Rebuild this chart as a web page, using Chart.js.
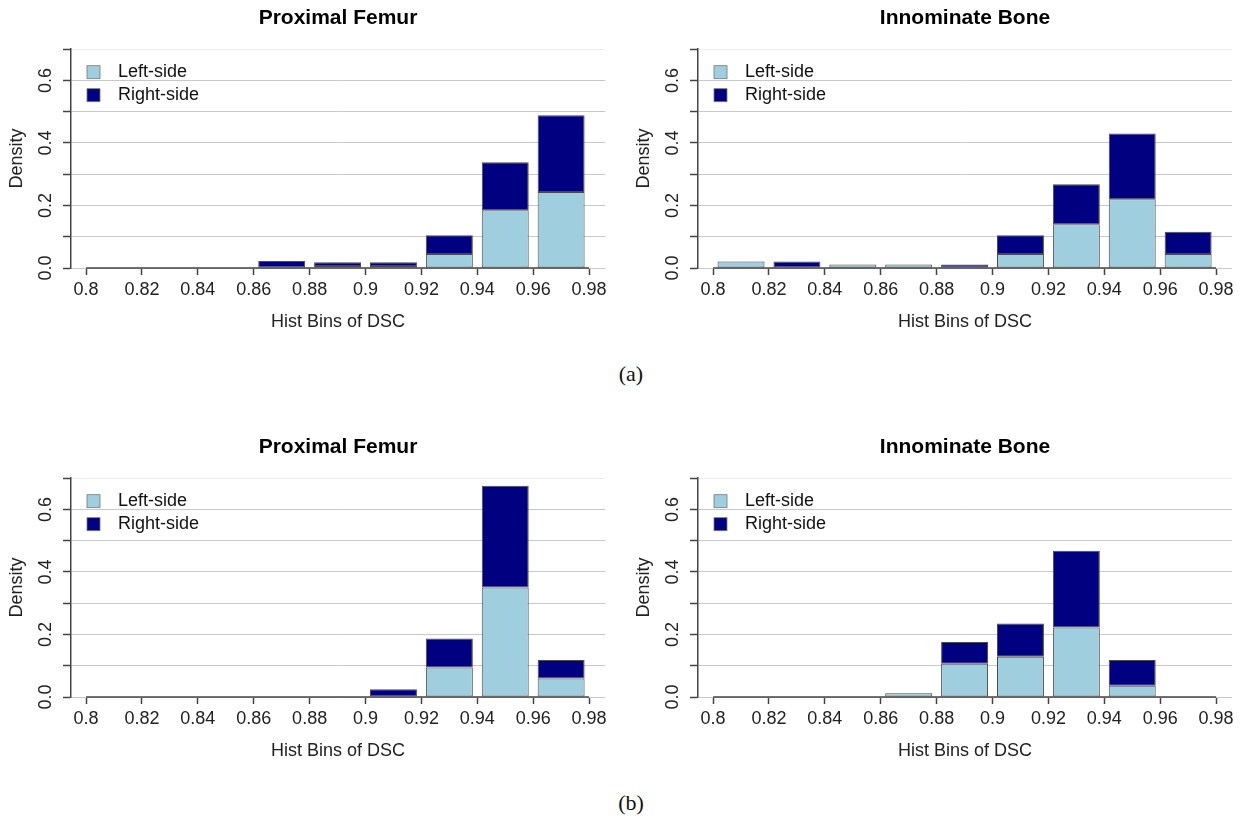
<!DOCTYPE html>
<html>
<head>
<meta charset="utf-8">
<script src="https://cdn.jsdelivr.net/npm/chart.js@4.4.1/dist/chart.umd.min.js"></script>
<style>
  body { margin: 0; background: #fff; width: 1242px; height: 816px; position: relative; overflow: hidden; }
  canvas { position: absolute; }
  .cap { position: absolute; width: 100px; text-align: center; font: 22px "Liberation Serif", "Times New Roman", serif; line-height: 22px; color: #111; }
</style>
</head>
<body>
<canvas id="c1" width="612" height="340" style="left:0;top:0"></canvas>
<canvas id="c2" width="612" height="340" style="left:627px;top:0"></canvas>
<div class="cap" style="left:581px;top:363px">(a)</div>
<canvas id="c3" width="612" height="340" style="left:0;top:429px"></canvas>
<canvas id="c4" width="612" height="340" style="left:627px;top:429px"></canvas>
<div class="cap" style="left:581px;top:792px">(b)</div>
<script>
// bins of DSC (width 0.02)
const binCenters = [0.81, 0.83, 0.85, 0.87, 0.89, 0.91, 0.93, 0.95, 0.97];
const xTicks = [0.8, 0.82, 0.84, 0.86, 0.88, 0.9, 0.92, 0.94, 0.96, 0.98];
const yTicks = [0, 0.1, 0.2, 0.3, 0.4, 0.5, 0.6, 0.7];
const yLabels = [0, 0.2, 0.4, 0.6];

// (a)
const femurA_left  = [0, 0, 0, 0, 0.006, 0.006, 0.045, 0.185, 0.243];
const femurA_right = [0, 0, 0, 0.022, 0.012, 0.012, 0.06, 0.153, 0.246];
const innomA_left  = [0.021, 0, 0.011, 0.011, 0, 0.045, 0.14, 0.22, 0.045];
const innomA_right = [0, 0.021, 0, 0, 0.011, 0.06, 0.128, 0.21, 0.071];
// (b)
const femurB_left  = [0, 0, 0, 0, 0, 0, 0.094, 0.35, 0.059];
const femurB_right = [0, 0, 0, 0, 0, 0.025, 0.093, 0.326, 0.059];
const innomB_left  = [0, 0, 0, 0.012, 0.106, 0.129, 0.222, 0.036, 0];
const innomB_right = [0, 0, 0, 0, 0.07, 0.106, 0.246, 0.082, 0];

const LIGHT = '#9fcfdf';
const NAVY = '#000080';
const AXIS = '#444';
const FONT = '"Liberation Sans", Arial, sans-serif';

// y labels rotated like R, x axis line between end ticks, legend inside the plot
const panelDecor = {
  id: 'panelDecor',
  afterDraw(chart) {
    const { ctx, chartArea, scales } = chart;
    const x = scales.x, y = scales.y;
    ctx.save();
    ctx.strokeStyle = AXIS;
    ctx.lineWidth = 1.5;
    ctx.beginPath();
    ctx.moveTo(x.getPixelForValue(xTicks[0]), chartArea.bottom);
    ctx.lineTo(x.getPixelForValue(xTicks[xTicks.length - 1]), chartArea.bottom);
    ctx.stroke();

    ctx.fillStyle = '#222';
    ctx.font = '18px ' + FONT;
    ctx.textAlign = 'center';
    ctx.textBaseline = 'middle';
    yLabels.forEach(v => {
      ctx.save();
      ctx.translate(chartArea.left - 25, y.getPixelForValue(v));
      ctx.rotate(-Math.PI / 2);
      ctx.fillText(v.toFixed(1), 0, 0);
      ctx.restore();
    });

    ctx.font = '18px ' + FONT;
    ctx.textAlign = 'left';
    chart.data.datasets.forEach((ds, i) => {
      const cy = chartArea.top + 23 + i * 23;
      ctx.fillStyle = ds.backgroundColor;
      ctx.fillRect(chartArea.left + 16, cy - 6.5, 13, 13);
      ctx.strokeStyle = '#777';
      ctx.lineWidth = 0.8;
      ctx.strokeRect(chartArea.left + 16, cy - 6.5, 13, 13);
      ctx.fillStyle = '#111';
      ctx.fillText(ds.label, chartArea.left + 47, cy);
    });
    ctx.restore();
  }
};

function makePanel(id, title, left, right) {
  new Chart(document.getElementById(id), {
    type: 'bar',
    data: {
      labels: binCenters,
      datasets: [
        { label: 'Left-side', data: left, backgroundColor: LIGHT },
        { label: 'Right-side', data: right, backgroundColor: NAVY }
      ]
    },
    options: {
      responsive: false,
      animation: false,
      layout: { padding: { left: 0, right: 7, top: 0, bottom: 0 } },
      datasets: {
        bar: {
          barPercentage: 0.84,
          categoryPercentage: 1,
          borderWidth: 1,
          borderColor: '#4a4a4a',
          borderSkipped: false
        }
      },
      plugins: {
        legend: { display: false },
        tooltip: { enabled: false },
        title: {
          display: true,
          text: title,
          fullSize: false,
          color: '#000',
          font: { family: FONT, size: 21, weight: 'bold' },
          padding: { top: 6, bottom: 18 }
        }
      },
      scales: {
        x: {
          type: 'linear',
          stacked: true,
          offset: false,
          min: 0.7946,
          max: 0.9857,
          afterBuildTicks: s => { s.ticks = xTicks.map(v => ({ value: v })); },
          afterFit: s => { s.height = 72; },
          border: { display: false },
          grid: {
            offset: false,
            drawOnChartArea: false,
            drawTicks: true,
            tickLength: 7,
            tickColor: AXIS,
            tickWidth: 1.5
          },
          ticks: {
            padding: 4,
            autoSkip: false,
            maxRotation: 0,
            color: '#222',
            font: { family: FONT, size: 18 },
            callback: v => String(+Number(v).toFixed(2))
          },
          title: {
            display: true,
            text: 'Hist Bins of DSC',
            color: '#222',
            font: { family: FONT, size: 18 },
            padding: { top: 0, bottom: 7 }
          }
        },
        y: {
          stacked: true,
          min: 0,
          max: 0.7,
          afterBuildTicks: s => { s.ticks = yTicks.map(v => ({ value: v })); },
          afterFit: s => { s.width = 71; },
          border: { display: true, color: AXIS, width: 1.5 },
          grid: {
            color: c => (c.tick && c.tick.value > 0.65 ? '#ececec' : '#c8c8c8'),
            lineWidth: 1,
            drawTicks: true,
            tickLength: 8,
            tickColor: AXIS,
            tickWidth: 1.5
          },
          ticks: { display: false },
          title: {
            display: true,
            text: 'Density',
            color: '#222',
            font: { family: FONT, size: 18 },
            padding: { top: 6, bottom: 0 }
          }
        }
      }
    },
    plugins: [panelDecor]
  });
}

makePanel('c1', 'Proximal Femur', femurA_left, femurA_right);
makePanel('c2', 'Innominate Bone', innomA_left, innomA_right);
makePanel('c3', 'Proximal Femur', femurB_left, femurB_right);
makePanel('c4', 'Innominate Bone', innomB_left, innomB_right);
</script>
</body>
</html>
